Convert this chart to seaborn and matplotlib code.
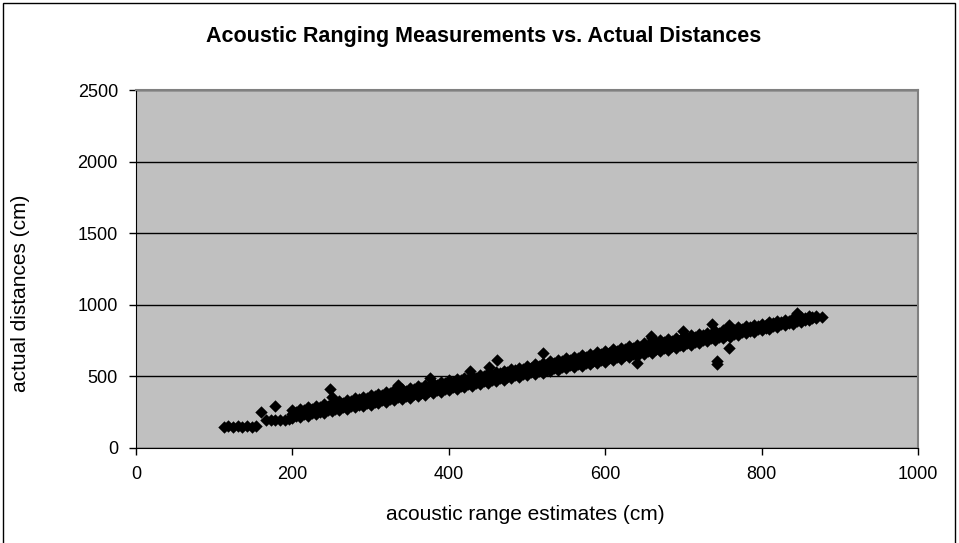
import seaborn as sns
import pandas as pd
import matplotlib.pyplot as plt
from matplotlib.patches import Rectangle

# main band of measurements: estimate (cm) with low / middle / high actual distances
band_x = [200, 210, 220, 230, 240, 250, 260, 270, 280, 290,
          300, 310, 320, 330, 340, 350, 360, 370, 380, 390,
          400, 410, 420, 430, 440, 450, 460, 470, 480, 490,
          500, 510, 520, 530, 540, 550, 560, 570, 580, 590,
          600, 610, 620, 630, 640, 650, 660, 670, 680, 690,
          700, 710, 720, 730, 740, 750, 760, 770, 780, 790,
          800, 810, 820, 830, 840, 850, 860, 870]
band_low = [206, 215, 226, 236, 245, 255, 264, 274, 284, 293,
            302, 312, 322, 332, 342, 352, 363, 373, 384, 394,
            405, 415, 425, 436, 447, 457, 467, 477, 488, 498,
            508, 518, 527, 537, 546, 556, 565, 575, 585, 595,
            604, 614, 624, 635, 645, 655, 665, 676, 687, 698,
            710, 721, 732, 744, 755, 766, 777, 789, 800, 812,
            823, 834, 846, 858, 869, 880, 892, 906]
band_mid = [234, 245, 254, 266, 274, 286, 296, 304, 317, 327,
            335, 347, 357, 366, 378, 388, 396, 408, 419, 428,
            439, 448, 459, 470, 478, 490, 500, 510, 521, 530,
            541, 551, 561, 570, 582, 592, 602, 612, 622, 633,
            643, 653, 662, 674, 684, 694, 704, 714, 725, 734,
            745, 755, 765, 776, 786, 796, 806, 816, 826, 837,
            847, 857, 867, 878, 888, 897, 907, 914]
band_high = [262, 272, 283, 294, 305, 316, 326, 337, 348, 358,
             370, 380, 390, 402, 412, 421, 432, 442, 452, 462,
             472, 482, 492, 502, 512, 522, 532, 541, 552, 562,
             572, 584, 594, 605, 616, 626, 637, 648, 659, 670,
             680, 690, 700, 711, 721, 731, 741, 751, 760, 769,
             778, 787, 796, 805, 814, 823, 833, 842, 851, 860,
             869, 878, 887, 896, 905, 914, 920, 924]

# in-between estimates of the band
band2_x = [205, 215, 225, 235, 245, 255, 265, 275, 285, 295,
           305, 315, 325, 335, 345, 355, 365, 375, 385, 395,
           405, 415, 425, 435, 445, 455, 465, 475, 485, 495,
           505, 515, 525, 535, 545, 555, 565, 575, 585, 595,
           605, 615, 625, 635, 645, 655, 665, 675, 685, 695,
           705, 715, 725, 735, 745, 755, 765, 775, 785, 795,
           805, 815, 825, 835, 845, 855, 865]
band2_lower = [225, 235, 245, 254, 264, 273, 283, 293, 303, 313,
               323, 333, 343, 353, 364, 374, 384, 395, 405, 415,
               425, 436, 446, 457, 467, 477, 487, 498, 508, 518,
               528, 537, 547, 557, 567, 577, 587, 597, 607, 617,
               627, 637, 648, 658, 668, 678, 689, 700, 710, 721,
               732, 743, 754, 765, 776, 786, 797, 808, 819, 830,
               841, 852, 863, 874, 885, 895, 905]
band2_upper = [253, 264, 274, 285, 296, 306, 317, 328, 339, 349,
               360, 370, 381, 391, 401, 411, 421, 431, 441, 452,
               462, 472, 481, 491, 502, 512, 522, 532, 542, 552,
               562, 573, 584, 594, 605, 615, 626, 636, 646, 656,
               667, 677, 688, 698, 708, 718, 728, 738, 748, 757,
               767, 776, 786, 795, 805, 814, 824, 833, 843, 852,
               862, 871, 881, 890, 900, 910, 918]

# short-range clusters
near_x = [112, 118, 124, 130, 136, 142, 148, 154,
          166, 172, 178, 184, 190, 196, 877]
near_y = [150, 152, 149, 151, 150, 152, 150, 152,
          196, 197, 195, 196, 198, 200, 916]

# scattered outliers
out_x = [160, 178, 248, 251, 335, 376, 427, 451, 462, 520,
         641, 658, 660, 700, 736, 743, 743, 758, 758, 845]
out_y = [253, 295, 412, 358, 440, 489, 540, 568, 614, 663,
         596, 782, 770, 817, 866, 605, 586, 697, 860, 945]

df = pd.DataFrame({
    "est": band_x * 3 + band2_x * 2 + near_x + out_x,
    "actual": band_low + band_mid + band_high + band2_lower + band2_upper
              + near_y + out_y,
})

plt.rcParams['font.family'] = ['Liberation Sans', 'DejaVu Sans']

fig = plt.figure(figsize=(9.59, 5.43), dpi=100)
ax = fig.add_axes([0.1418, 0.175, 0.8155, 0.659])
ax.set_facecolor('#c0c0c0')

sns.scatterplot(x='est', y='actual', data=df, ax=ax, marker='D',
                color='black', s=40, linewidth=0, zorder=3)

ax.set_xlim(0, 1000)
ax.set_ylim(0, 2500)
ax.set_xticks([0, 200, 400, 600, 800, 1000])
ax.set_yticks([0, 500, 1000, 1500, 2000, 2500])
ax.grid(axis='y', color='black', linewidth=1)
ax.set_axisbelow(True)
ax.tick_params(labelsize=13, length=5, width=1, color='black', pad=8)

for side in ['top', 'right']:
    ax.spines[side].set_color('#808080')
    ax.spines[side].set_linewidth(1.5)
for side in ['left', 'bottom']:
    ax.spines[side].set_color('black')

ax.set_xlabel('')
ax.set_ylabel('')
fig.text(0.504, 0.933, 'Acoustic Ranging Measurements vs. Actual Distances',
         ha='center', va='center', fontsize=15.5, fontweight='bold')
fig.text(0.548, 0.052, 'acoustic range estimates (cm)',
         ha='center', va='center', fontsize=15)
fig.text(0.021, 0.46, 'actual distances (cm)', rotation=90,
         ha='center', va='center', fontsize=15)

# chart border
fig.patches.append(Rectangle((0.003, -0.01), 0.993, 1.005, transform=fig.transFigure,
                             fill=False, edgecolor='black', linewidth=1))

fig.savefig('out.png', dpi=100)
